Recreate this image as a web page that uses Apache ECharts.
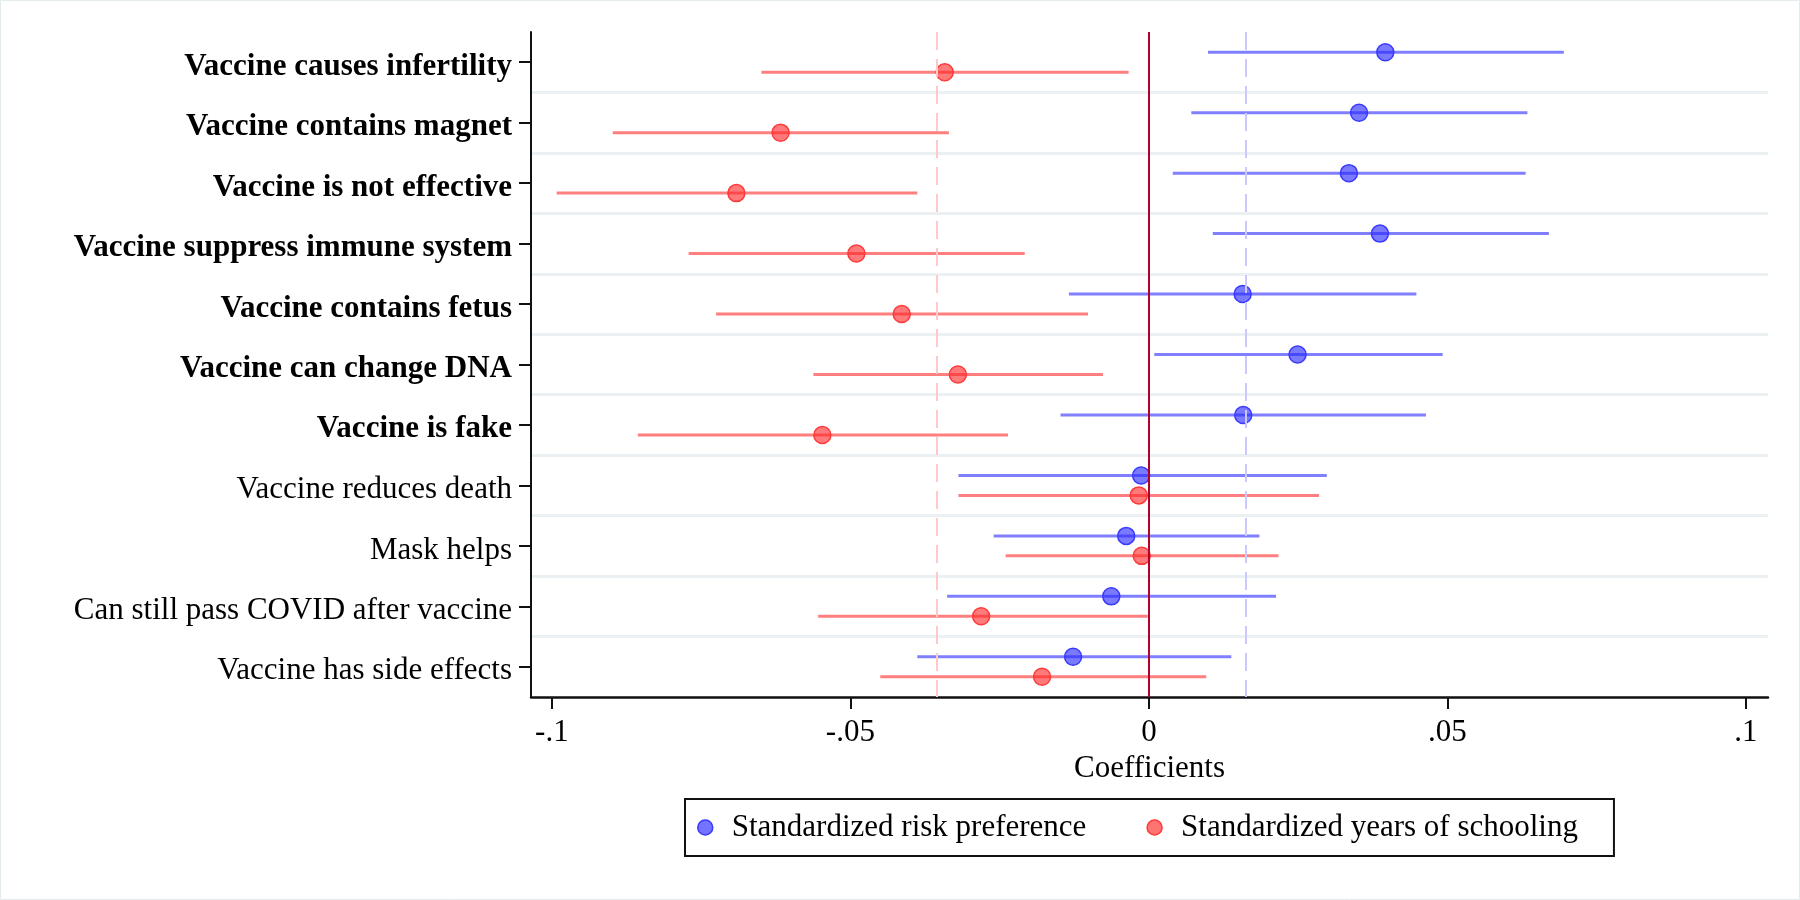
<!DOCTYPE html>
<html>
<head>
<meta charset="utf-8">
<script src="https://cdn.jsdelivr.net/npm/echarts@6/dist/echarts.min.js"></script>
<style>
  html, body { margin: 0; padding: 0; background: #fff; }
  #chart { width: 1800px; height: 900px; }
</style>
</head>
<body>
<div id="chart"></div>
<script>
// rows, top to bottom
var categories = [
  'Vaccine causes infertility',
  'Vaccine contains magnet',
  'Vaccine is not effective',
  'Vaccine suppress immune system',
  'Vaccine contains fetus',
  'Vaccine can change DNA',
  'Vaccine is fake',
  'Vaccine reduces death',
  'Mask helps',
  'Can still pass COVID after vaccine',
  'Vaccine has side effects'
];
var boldRows = [true, true, true, true, true, true, true, false, false, false, false];

// Standardized risk preference: estimate and 95% CI
var riskEst = [0.0396, 0.0352, 0.0335, 0.0387, 0.0157, 0.0249, 0.0158, -0.0013, -0.0038, -0.0063, -0.0127];
var riskLo  = [0.0099, 0.0071, 0.0040, 0.0107, -0.0134, 0.0009, -0.0148, -0.0319, -0.0260, -0.0338, -0.0388];
var riskHi  = [0.0695, 0.0634, 0.0631, 0.0670, 0.0448, 0.0492, 0.0464, 0.0298, 0.0185, 0.0213, 0.0138];

// Standardized years of schooling
var schoolEst = [-0.0342, -0.0617, -0.0691, -0.0490, -0.0414, -0.0320, -0.0547, -0.0017, -0.0012, -0.0281, -0.0179];
var schoolLo  = [-0.0649, -0.0898, -0.0992, -0.0771, -0.0725, -0.0562, -0.0856, -0.0319, -0.0240, -0.0554, -0.0450];
var schoolHi  = [-0.0034, -0.0335, -0.0388, -0.0208, -0.0102, -0.0077, -0.0236, 0.0285, 0.0217, -0.0002, 0.0096];

// reference lines (zero and the two dashed means)
var zeroLine = 0;
var riskMean = 0.0163;
var schoolMean = -0.0355;

var xTicks = [-0.1, -0.05, 0, 0.05, 0.1];
var xTickLabels = ['-.1', '-.05', '0', '.05', '.1'];

var serif = "'Liberation Serif', 'Times New Roman', serif";

function rows(est, lo, hi) {
  var out = [];
  for (var i = 0; i < categories.length; i++) {
    out.push([i, est[i], lo[i], hi[i]]);
  }
  return out;
}

function makeRender(shift, lineColor, fill, stroke) {
  return function (params, api) {
    var idx = api.value(0);
    var band = api.size([0, 1])[1];
    var dy = shift * band;
    var p = api.coord([api.value(1), idx]);
    var a = api.coord([api.value(2), idx]);
    var b = api.coord([api.value(3), idx]);
    return {
      type: 'group',
      children: [
        { type: 'line', shape: { x1: a[0], y1: a[1] + dy, x2: b[0], y2: b[1] + dy },
          style: { stroke: lineColor, lineWidth: 3 } },
        { type: 'circle', shape: { cx: p[0], cy: p[1] + dy, r: 8.5 },
          style: { fill: fill, stroke: stroke, lineWidth: 1.5 } }
      ]
    };
  };
}

var chart = echarts.init(document.getElementById('chart'));

chart.setOption({
  backgroundColor: '#fff',
  animation: false,
  graphic: [{
    type: 'rect', shape: { x: 0.5, y: 0.5, width: 1799, height: 899 },
    style: { fill: 'none', stroke: '#e4ebeb', lineWidth: 1 }, silent: true
  }],
  grid: { left: 531, right: 32, top: 32, bottom: 203 },
  xAxis: {
    type: 'value',
    min: -0.1035,
    max: 0.1037,
    splitLine: { show: false },
    axisLine: { show: true, onZero: false, lineStyle: { color: '#111', width: 2.5 } },
    axisTick: { show: true, length: 12, lineStyle: { color: '#111', width: 2 }, customValues: xTicks },
    axisLabel: {
      margin: 20, fontFamily: serif, fontSize: 31, color: '#000',
      customValues: xTicks,
      formatter: function (v) {
        for (var i = 0; i < xTicks.length; i++) {
          if (Math.abs(v - xTicks[i]) < 1e-9) return xTickLabels[i];
        }
        return '';
      }
    },
    name: 'Coefficients',
    nameLocation: 'middle',
    nameGap: 49,
    nameTextStyle: { fontFamily: serif, fontSize: 31, color: '#000' }
  },
  yAxis: {
    type: 'category',
    inverse: true,
    data: categories,
    axisLine: { show: true, onZero: false, lineStyle: { color: '#111', width: 2 } },
    axisTick: { show: true, alignWithLabel: true, length: 12, lineStyle: { color: '#111', width: 2 } },
    axisLabel: {
      margin: 19, fontFamily: serif, fontSize: 31, color: '#000',
      padding: [9, 0, 0, 0],
      formatter: function (v, i) {
        return boldRows[i] ? '{b|' + v + '}' : v;
      },
      rich: { b: { fontFamily: serif, fontSize: 31, fontWeight: 'bold', color: '#000' } }
    },
    splitLine: { show: true, showMinLine: false, showMaxLine: false, lineStyle: { color: '#ebf1f2', width: 3 } }
  },
  legend: {
    left: 685,
    top: 799,
    orient: 'horizontal',
    padding: [12, 36, 12, 12],
    itemGap: 60,
    itemWidth: 15,
    itemHeight: 15,
    borderColor: '#111',
    borderWidth: 2,
    formatter: function (name) { return '{t|' + name + '}'; },
    textStyle: {
      fontFamily: serif, fontSize: 31, color: '#000', lineHeight: 33,
      rich: { t: { fontFamily: serif, fontSize: 31, color: '#000', lineHeight: 33, padding: [0, 0, 0, 14] } }
    },
    data: [
      { name: 'Standardized risk preference', icon: 'circle',
        itemStyle: { color: '#7373ff', borderColor: '#3a3aff', borderWidth: 1.5 } },
      { name: 'Standardized years of schooling', icon: 'circle',
        itemStyle: { color: '#ff7373', borderColor: '#ff3a3a', borderWidth: 1.5 } }
    ]
  },
  series: [
    {
      name: 'refs',
      type: 'line',
      data: [],
      z: 1,
      silent: true,
      markLine: {
        symbol: 'none',
        silent: true,
        precision: 6,
        label: { show: false },
        data: [
          { xAxis: riskMean, lineStyle: { color: '#c9c9ff', width: 2, type: [18, 9] } },
          { xAxis: schoolMean, lineStyle: { color: '#ffc9c9', width: 2, type: [18, 9] } }
        ]
      }
    },
    {
      name: 'Standardized risk preference',
      type: 'custom',
      z: 3,
      itemStyle: { color: '#7373ff' },
      encode: { x: [1, 2, 3], y: 0 },
      renderItem: makeRender(-0.165, 'rgba(0,0,255,0.5)', 'rgba(40,40,255,0.62)', '#3a3aff'),
      data: rows(riskEst, riskLo, riskHi)
    },
    {
      name: 'Standardized years of schooling',
      type: 'custom',
      z: 3,
      itemStyle: { color: '#ff7373' },
      encode: { x: [1, 2, 3], y: 0 },
      renderItem: makeRender(0.165, 'rgba(255,0,0,0.5)', 'rgba(255,40,40,0.62)', '#ff3a3a'),
      data: rows(schoolEst, schoolLo, schoolHi)
    },
    {
      name: 'zero',
      type: 'line',
      data: [],
      z: 5,
      silent: true,
      markLine: {
        symbol: 'none',
        silent: true,
        precision: 6,
        label: { show: false },
        data: [{ xAxis: zeroLine, lineStyle: { color: '#b3002d', width: 2, type: 'solid' } }]
      }
    }
  ]
});
</script>
</body>
</html>
